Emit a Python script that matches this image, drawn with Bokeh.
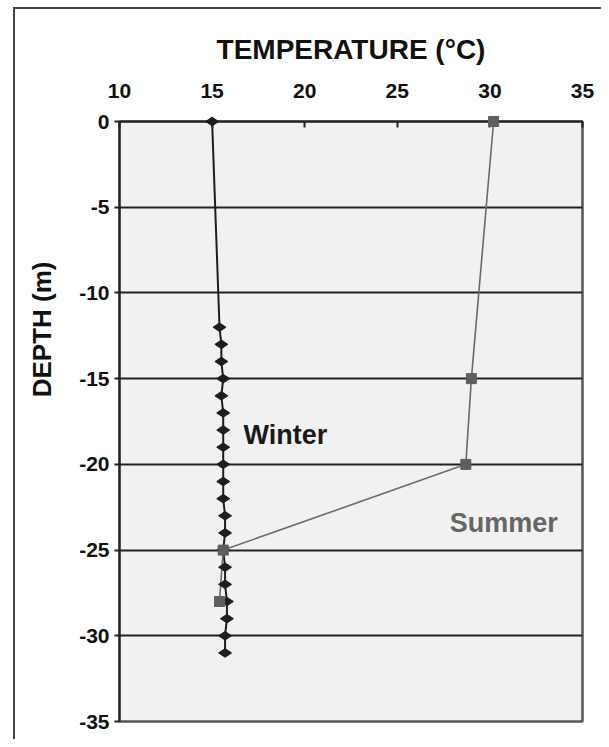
import math
from bokeh.plotting import figure
from bokeh.models import FixedTicker, Label, Range1d, Title
from bokeh.embed import file_html
from bokeh.resources import INLINE

# ---- data ----
winter_depth = [0, -12, -13, -14, -15, -16, -17, -18, -19, -20, -21, -22,
                -23, -24, -25, -26, -27, -28, -29, -30, -31]
winter_temp = [15.0, 15.4, 15.5, 15.5, 15.6, 15.5, 15.6, 15.6, 15.6, 15.6, 15.6,
               15.6, 15.7, 15.7, 15.6, 15.7, 15.7, 15.8, 15.8, 15.7, 15.7]

summer_depth = [0, -15, -20, -25, -28]
summer_temp = [30.2, 29.0, 28.7, 15.6, 15.4]

temp_ticks = [10, 15, 20, 25, 30, 35]
temp_tick_labels = ["10", "15", "20", "25", "30", "35"]
depth_ticks = [0, -5, -10, -15, -20, -25, -30, -35]
depth_tick_labels = ["0", "-5", "-10", "-15", "-20", "-25", "-30", "-35"]
grid_depths = [-5, -10, -15, -20, -25, -30]

FONT = "Liberation Sans"

frame_css = {
    "background-color": "white",
    "background-image": "linear-gradient(#444444, #444444), linear-gradient(#444444, #444444)",
    "background-size": "100% 2px, 2px 100%",
    "background-position": "14px 7px, 13px 7px",
    "background-repeat": "no-repeat",
}

p = figure(width=601, height=739,
           x_range=Range1d(10, 35), y_range=Range1d(-35, 0),
           x_axis_location="above",
           output_backend="svg", toolbar_location=None,
           min_border_left=119, min_border_right=19,
           min_border_top=121, min_border_bottom=18,
           styles=frame_css)

p.background_fill_color = "#f1f1f1"
p.border_fill_color = None
p.outline_line_color = "#555555"
p.outline_line_width = 2.5

# top (temperature) axis
xa = p.xaxis[0]
xa.ticker = FixedTicker(ticks=temp_ticks)
xa.major_label_overrides = {t: s for t, s in zip(temp_ticks, temp_tick_labels)}
xa.axis_label = "TEMPERATURE (°C)"
xa.axis_label_text_font = FONT
xa.axis_label_text_font_style = "bold"
xa.axis_label_text_font_size = "28px"
xa.axis_label_text_color = "#111111"
xa.axis_label_standoff = 16
xa.major_label_text_font = FONT
xa.major_label_text_font_style = "bold"
xa.major_label_text_font_size = "21px"
xa.major_label_text_color = "#111111"
xa.major_label_standoff = 24
xa.major_tick_in = 6
xa.major_tick_out = 0
xa.minor_tick_line_color = None
xa.axis_line_color = "#222222"
xa.axis_line_width = 2
xa.major_tick_line_color = "#222222"
xa.major_tick_line_width = 2

# left (depth) axis
ya = p.yaxis[0]
ya.ticker = FixedTicker(ticks=depth_ticks)
ya.major_label_overrides = {t: s for t, s in zip(depth_ticks, depth_tick_labels)}
ya.major_label_text_font = FONT
ya.major_label_text_font_style = "bold"
ya.major_label_text_font_size = "21px"
ya.major_label_text_color = "#111111"
ya.major_label_standoff = 5
ya.major_tick_in = 0
ya.major_tick_out = 5
ya.minor_tick_line_color = None
ya.axis_line_color = "#222222"
ya.axis_line_width = 2
ya.major_tick_line_color = "#222222"
ya.major_tick_line_width = 2

p.xgrid.visible = False
p.ygrid.ticker = FixedTicker(ticks=grid_depths)
p.ygrid.grid_line_color = "#222222"
p.ygrid.grid_line_width = 2

# winter profile
p.line(winter_temp, winter_depth, line_color="#1e1e1e", line_width=2)
p.scatter(winter_temp, winter_depth, marker="diamond", size=13, angle=math.pi / 2,
          fill_color="#1e1e1e", line_color="#1e1e1e", level="overlay")

# summer profile
p.line(summer_temp, summer_depth, line_color="#6a6a6a", line_width=1.6)
p.scatter(summer_temp, summer_depth, marker="square", size=10,
          fill_color="#5e5e5e", line_color="#5e5e5e", level="overlay")

p.add_layout(Label(x=16.7, y=-18.3, text="Winter", text_font=FONT,
                   text_font_style="bold", text_font_size="27px",
                   text_color="#1a1a1a", text_align="left", text_baseline="middle"))
p.add_layout(Label(x=27.83, y=-23.4, text="Summer", text_font=FONT,
                   text_font_style="bold", text_font_size="27px",
                   text_color="#666666", text_align="left", text_baseline="middle"))

# y-axis title as a side title (shifted upwards like the reference)
p.add_layout(Title(text="DEPTH (m)", align="right", offset=140, standoff=39,
                   text_font=FONT, text_font_style="bold", text_font_size="26px",
                   text_color="#111111"), "left")

open("out.html", "w").write(file_html(p, INLINE))
